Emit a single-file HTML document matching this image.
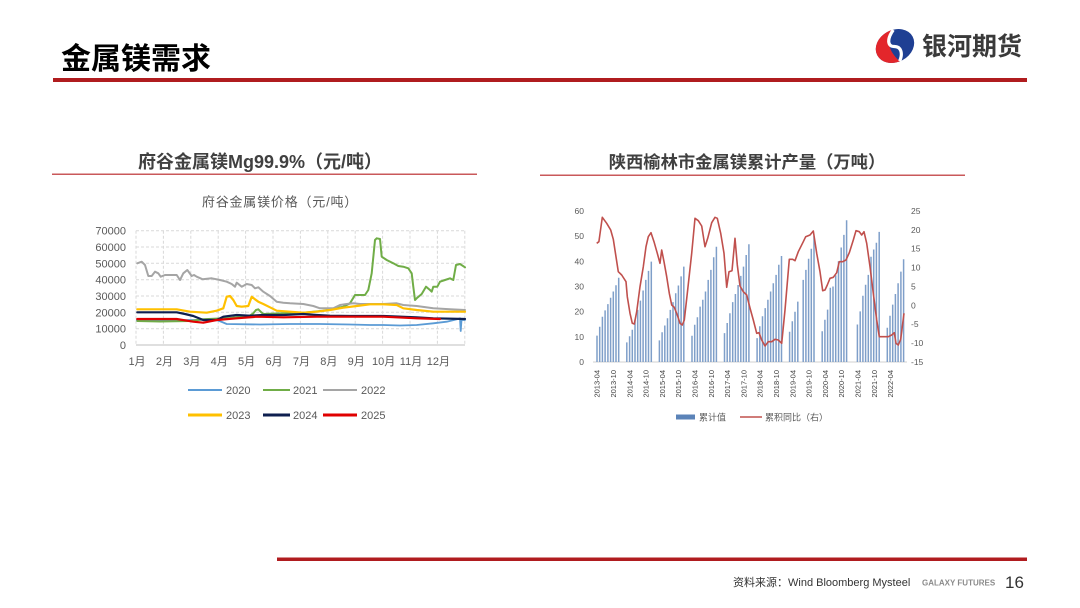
<!DOCTYPE html>
<html><head><meta charset="utf-8">
<style>
html,body{margin:0;padding:0;background:#fff;}
body{width:1080px;height:608px;overflow:hidden;position:relative;}
svg{position:absolute;left:0;top:0;}
</style></head>
<body>
<svg width="1080" height="608" viewBox="0 0 1080 608" xmlns="http://www.w3.org/2000/svg" font-family="'Liberation Sans','Noto Sans CJK SC',sans-serif">
<!-- Header -->
<text x="61" y="69" font-size="30" font-weight="700" fill="#000" font-family="'Noto Sans CJK SC','WenQuanYi Zen Hei',sans-serif">金属镁需求</text>
<rect x="53" y="78" width="974" height="4" fill="#b01c1f"/>
<!-- logo -->
<g transform="translate(895,46) rotate(-28)">
  <ellipse cx="0" cy="0" rx="20" ry="16" fill="#1f3f93"/>
  <path d="M-20,0 A20,16 0 0,1 6,-15.3 C-6,-9 -8,2 -3,15.8 A20,16 0 0,1 -20,0 Z" fill="#e3262b"/>
  <path d="M6,-15 C-4,-10 -7,-3 -1,0 C5,3 4,10 -3,15.5" fill="none" stroke="#fff" stroke-width="3.2"/>
</g>
<text x="922" y="55" font-size="25" font-weight="700" fill="#3a3a3a" font-family="'Noto Sans CJK SC','WenQuanYi Zen Hei',sans-serif">银河期货</text>

<!-- Section titles -->
<text x="260" y="168" font-size="18" font-weight="700" fill="#404040" text-anchor="middle">府谷金属镁Mg99.9%（元/吨）</text>
<rect x="52" y="173.5" width="425" height="1.5" fill="#c9585a"/>
<text x="747" y="168" font-size="17.3" font-weight="700" fill="#404040" text-anchor="middle">陕西榆林市金属镁累计产量（万吨）</text>
<rect x="540" y="174.5" width="425" height="1.5" fill="#c9585a"/>

<!-- LEFT CHART -->
<text x="280" y="206.5" font-size="13" fill="#595959" text-anchor="middle" letter-spacing="0.8">府谷金属镁价格（元/吨）</text>
<g stroke="#d9d9d9" stroke-width="1" stroke-dasharray="3,2" fill="none">
  <line x1="136" y1="328.7" x2="465" y2="328.7"/>
  <line x1="136" y1="312.3" x2="465" y2="312.3"/>
  <line x1="136" y1="296" x2="465" y2="296"/>
  <line x1="136" y1="279.7" x2="465" y2="279.7"/>
  <line x1="136" y1="263.3" x2="465" y2="263.3"/>
  <line x1="136" y1="247" x2="465" y2="247"/>
  <line x1="136" y1="230.7" x2="465" y2="230.7"/>
  <line x1="136" y1="230.7" x2="136" y2="345"/>
  <line x1="163.4" y1="230.7" x2="163.4" y2="345"/>
  <line x1="190.8" y1="230.7" x2="190.8" y2="345"/>
  <line x1="218.2" y1="230.7" x2="218.2" y2="345"/>
  <line x1="245.6" y1="230.7" x2="245.6" y2="345"/>
  <line x1="273" y1="230.7" x2="273" y2="345"/>
  <line x1="300.4" y1="230.7" x2="300.4" y2="345"/>
  <line x1="327.8" y1="230.7" x2="327.8" y2="345"/>
  <line x1="355.2" y1="230.7" x2="355.2" y2="345"/>
  <line x1="382.6" y1="230.7" x2="382.6" y2="345"/>
  <line x1="410" y1="230.7" x2="410" y2="345"/>
  <line x1="437.4" y1="230.7" x2="437.4" y2="345"/>
  <line x1="464.8" y1="230.7" x2="464.8" y2="345"/>
</g>
<line x1="136" y1="345" x2="465" y2="345" stroke="#bfbfbf" stroke-width="1"/>
<g font-size="11" fill="#595959" text-anchor="end">
  <text x="126" y="349">0</text>
  <text x="126" y="332.7">10000</text>
  <text x="126" y="316.3">20000</text>
  <text x="126" y="300">30000</text>
  <text x="126" y="283.7">40000</text>
  <text x="126" y="267.3">50000</text>
  <text x="126" y="251">60000</text>
  <text x="126" y="234.7">70000</text>
</g>
<g font-size="11" fill="#595959" text-anchor="middle">
  <text x="137" y="365">1月</text>
  <text x="164.4" y="365">2月</text>
  <text x="191.8" y="365">3月</text>
  <text x="219.2" y="365">4月</text>
  <text x="246.6" y="365">5月</text>
  <text x="274" y="365">6月</text>
  <text x="301.4" y="365">7月</text>
  <text x="328.8" y="365">8月</text>
  <text x="356.2" y="365">9月</text>
  <text x="383.6" y="365">10月</text>
  <text x="411" y="365">11月</text>
  <text x="438.4" y="365">12月</text>
</g>
<g fill="none" stroke-linejoin="round" stroke-linecap="round">
  <!-- 2020 -->
  <polyline stroke="#5b9bd5" stroke-width="1.8" points="136.7,320 160,320.5 190,320 216.7,320 222,322 226.7,324 260,324.5 290,324 320,324 350,324.5 370,325 383.3,325 400,325.5 416.7,325 433.3,323.3 446.7,321.7 458,319 460,318.3 460.7,331 461.5,320 465,320"/>
  <!-- 2021 -->
  <polyline stroke="#70ad47" stroke-width="2" points="137.3,321 160,321.5 190,321 203.3,319.3 230,318 250,315.5 253.3,313.3 256,310 258.3,309.3 261,312 263.3,314 283.3,313.3 303.3,312.7 323.3,310.7 343.3,306.7 350,303.3 355,295 360,295 365,295 368.3,290 371.7,273.3 375,240 376.7,238.3 380,239 381.7,256.7 386.7,260 393.3,263.3 398.3,266 403.3,266.7 408.3,268.3 411.7,273.3 413.3,286.7 415,300 416.7,298.3 421.7,294 426,286.7 430,290 431.7,291.7 433.3,286.7 437.3,286.7 440,281.7 445,280 450,278.3 453.3,280 456,265 460,264 465,267.3"/>
  <!-- 2022 -->
  <polyline stroke="#a5a5a5" stroke-width="2" points="137.3,263.3 141.7,261.7 145,265 148.3,276 151.7,276 155,271.7 158.3,273.3 160.7,276.7 165,275 176.7,275 180,280 183.3,273.3 187.3,270 191.7,276 194,275 196.7,276.7 202.7,279.3 211.7,278.3 220,280 226.7,281.7 231.7,284 235,286.7 236.7,282.7 241.7,286.7 246.7,284 251.7,285 255,288.3 258.3,287.3 263.3,291.7 270,296 276.7,301.7 283.3,302.7 290,303.3 303.3,304 313.3,306 320,308.3 333.3,308.3 340,305 346.7,304 353.3,303.3 360,304 370,304 383.3,304 396.7,303.3 403.3,305 416.7,306 433.3,308.3 450,309.3 465,310"/>
  <!-- 2023 -->
  <polyline stroke="#ffc000" stroke-width="2.2" points="137.3,309.3 176.7,309.3 190,311.7 206.7,312.7 216.7,310.7 223.3,308.3 226.7,296.7 230,296 233.3,300 236.7,306 241.7,306.7 248.3,306 251.7,296.7 255,299.3 258.3,301.7 263.3,304 270,307.3 276.7,310.7 290,311.7 303.3,312.7 316.7,311.7 330,310 343.3,307.7 356.7,306 370,304.3 383.3,304.3 396.7,305 403.3,308.3 416.7,310 433.3,311.7 465,311.7"/>
  <!-- 2024 -->
  <polyline stroke="#0e1f4f" stroke-width="2.2" points="137.3,312.3 176.7,312.3 185,314 193.3,316 203.3,320 216.7,320 223.3,316.7 236.7,315 250,315.7 263.3,315 283.3,315 303.3,314 316.7,315 330,315.7 350,316 383.3,316 416.7,317.3 433.3,318.3 465,319"/>
  <!-- 2025 -->
  <polyline stroke="#e00000" stroke-width="2.2" points="137.3,319 176.7,319 193.3,321.7 203.3,322.7 216.7,320 236.7,318.3 256.7,316.7 283.3,317.3 316.7,316.7 350,316.7 383.3,316.7 416.7,318.3 440,319"/>
</g>
<!-- left legend -->
<g stroke-width="2">
  <line x1="188" y1="390" x2="222" y2="390" stroke="#5b9bd5"/>
  <line x1="263" y1="390" x2="290" y2="390" stroke="#70ad47"/>
  <line x1="323" y1="390" x2="357" y2="390" stroke="#a5a5a5"/>
  <line x1="188" y1="415" x2="222" y2="415" stroke="#ffc000" stroke-width="3"/>
  <line x1="263" y1="415" x2="290" y2="415" stroke="#0e1f4f" stroke-width="3"/>
  <line x1="323" y1="415" x2="357" y2="415" stroke="#e00000" stroke-width="3"/>
</g>
<g font-size="11" fill="#595959">
  <text x="226" y="394">2020</text>
  <text x="293" y="394">2021</text>
  <text x="361" y="394">2022</text>
  <text x="226" y="419">2023</text>
  <text x="293" y="419">2024</text>
  <text x="361" y="419">2025</text>
</g>

<!-- RIGHT CHART -->
<line x1="593" y1="362" x2="907" y2="362" stroke="#d0d0d0" stroke-width="1"/>
<path stroke="#7f9fc9" stroke-width="1.5" fill="none" d="
M597,362V335.6M599.7,362V326.8M602.4,362V316.7M605.1,362V310.4M607.9,362V304.1M610.6,362V297.8M613.3,362V291.5M616,362V285.2M618.7,362V277.7
M626.8,362V342.4M629.6,362V336.3M632.3,362V329.8M635,362V319.7M637.7,362V309.9M640.4,362V300.6M643.1,362V290.5M645.8,362V279.9M648.5,362V270.9M651.3,362V261.6
M659.4,362V340.4M662.1,362V332.3M664.8,362V325.5M667.5,362V318.2M670.3,362V309.9M673,362V302.1M675.7,362V293.3M678.4,362V285.5M681.1,362V276.4M683.8,362V266.6
M692,362V335.8M694.7,362V324.7M697.4,362V317.2M700.1,362V306.6M702.8,362V299.8M705.5,362V291.5M708.2,362V279.9M710.9,362V269.9M713.7,362V257.3M716.4,362V246.7
M724.5,362V333.1M727.2,362V323M729.9,362V313.2M732.7,362V302.1M735.4,362V294M738.1,362V285M740.8,362V275.9M743.5,362V266.6M746.2,362V255M748.9,362V244.2
M757.1,362V338.1M759.8,362V326.3M762.5,362V316.2M765.2,362V308.1M767.9,362V299.8M770.6,362V291.5M773.3,362V283.2M776.1,362V274.9M778.8,362V264.8M781.5,362V256
M789.6,362V331.8M792.3,362V321.2M795,362V311.7M797.8,362V301.6M803.2,362V279.9M805.9,362V269.9M808.6,362V258.8M811.3,362V248.7M814,362V236.2
M822.2,362V331.3M824.9,362V319.7M827.6,362V309.6M830.3,362V287.7M833,362V286.5M835.7,362V275.2M838.5,362V261.3M841.2,362V247.5M843.9,362V234.9M846.6,362V220.3
M857.4,362V324.5M860.2,362V311.4M862.9,362V295.8M865.6,362V284.7M868.3,362V274.9M871,362V256.8M873.7,362V249.5M876.4,362V242.7M879.2,362V231.9
M887.3,362V327.8M890,362V315.7M892.7,362V304.6M895.4,362V294M898.1,362V283.2M900.9,362V271.6M903.6,362V259.3"/>
<polyline fill="none" stroke="#c0504d" stroke-width="1.6" stroke-linejoin="round" points="596.7,243.3 598.9,241.7 602.3,217.3 606.7,223.3 610.7,230 613.3,239.3 618.3,271.7 621.7,275 626,281.7 627.3,296.7 630,313.3 632.3,323.3 634.3,324 636.7,311.7 640,286.7 643.3,266.7 646,246.7 648.3,236.7 651,232.7 654,241.7 657.3,253.3 660,263.3 661.7,250 664,261.7 666.7,276.7 669.3,293.3 671.7,305 674.3,307.3 677.3,315 680,323.3 682.3,325 684.3,320 687.3,293.3 691.7,253.3 695,218.3 698.3,220.7 701.7,226 705,246.7 707.7,238.3 711.7,222.7 715,217.3 717.3,218.3 720.7,233.3 724,253.3 726.7,287.3 729,271.7 732,270.7 735,238.3 737.3,265 740,286 743.3,291.7 746.7,295 750,308 753.3,320 756.7,333.3 759,332.7 761.7,340 765,346 768.3,341.7 771.7,341.7 775,339.3 778.3,340 781.7,343.3 785,310 789.3,259.3 792.7,259.3 795,260.7 798.3,251.7 803.3,241.7 805.7,236.7 810,235 813.3,231 816.7,253.3 820,271.7 822.7,290.7 825,290 827.3,285 830,278.3 833.3,277.3 836.7,272.7 839.3,261.7 842.7,261.7 846,260 849.3,252.7 853.3,240 856,230.7 859.3,231.7 861.7,235 864,231.7 866.7,243.3 870,266.7 873.3,293.3 876.7,320 879.3,336.7 883.3,336.7 888.3,336.7 891.7,335 894.3,332.7 896,343.3 898.3,345 900.7,339.3 904,313.3"/>
<g font-size="8.5" fill="#595959" text-anchor="end">
  <text x="584" y="365">0</text>
  <text x="584" y="339.8">10</text>
  <text x="584" y="314.7">20</text>
  <text x="584" y="289.5">30</text>
  <text x="584" y="264.3">40</text>
  <text x="584" y="239.2">50</text>
  <text x="584" y="214">60</text>
</g>
<g font-size="8.5" fill="#595959">
  <text x="911" y="365">-15</text>
  <text x="911" y="346.1">-10</text>
  <text x="911" y="327.2">-5</text>
  <text x="911" y="308.4">0</text>
  <text x="911" y="289.5">5</text>
  <text x="911" y="270.6">10</text>
  <text x="911" y="251.7">15</text>
  <text x="911" y="232.9">20</text>
  <text x="911" y="214">25</text>
</g>
<g font-size="7.5" fill="#404040" text-anchor="end">
  <text transform="translate(599.7,370) rotate(-90)">2013-04</text>
  <text transform="translate(616,370) rotate(-90)">2013-10</text>
  <text transform="translate(632.3,370) rotate(-90)">2014-04</text>
  <text transform="translate(648.6,370) rotate(-90)">2014-10</text>
  <text transform="translate(664.9,370) rotate(-90)">2015-04</text>
  <text transform="translate(681.2,370) rotate(-90)">2015-10</text>
  <text transform="translate(697.5,370) rotate(-90)">2016-04</text>
  <text transform="translate(713.8,370) rotate(-90)">2016-10</text>
  <text transform="translate(730.1,370) rotate(-90)">2017-04</text>
  <text transform="translate(746.4,370) rotate(-90)">2017-10</text>
  <text transform="translate(762.7,370) rotate(-90)">2018-04</text>
  <text transform="translate(779,370) rotate(-90)">2018-10</text>
  <text transform="translate(795.3,370) rotate(-90)">2019-04</text>
  <text transform="translate(811.6,370) rotate(-90)">2019-10</text>
  <text transform="translate(827.9,370) rotate(-90)">2020-04</text>
  <text transform="translate(844.2,370) rotate(-90)">2020-10</text>
  <text transform="translate(860.5,370) rotate(-90)">2021-04</text>
  <text transform="translate(876.8,370) rotate(-90)">2021-10</text>
  <text transform="translate(893.1,370) rotate(-90)">2022-04</text>
</g>
<rect x="676" y="414.5" width="19" height="5" fill="#5b83b8"/>
<text x="699" y="420.5" font-size="9" fill="#595959">累计值</text>
<line x1="740" y1="417" x2="762" y2="417" stroke="#c0504d" stroke-width="1.6"/>
<text x="765" y="420.5" font-size="9" fill="#595959">累积同比（右）</text>

<!-- Footer -->
<rect x="277" y="557.5" width="750" height="3.5" fill="#b01c1f"/>
<text x="733" y="586" font-size="11" fill="#333">资料来源：Wind Bloomberg Mysteel</text>
<text x="922" y="585.5" font-size="8" font-weight="700" fill="#8a8a8a">GALAXY FUTURES</text>
<text x="1005" y="588" font-size="17" fill="#333">16</text>
</svg>
</body></html>
